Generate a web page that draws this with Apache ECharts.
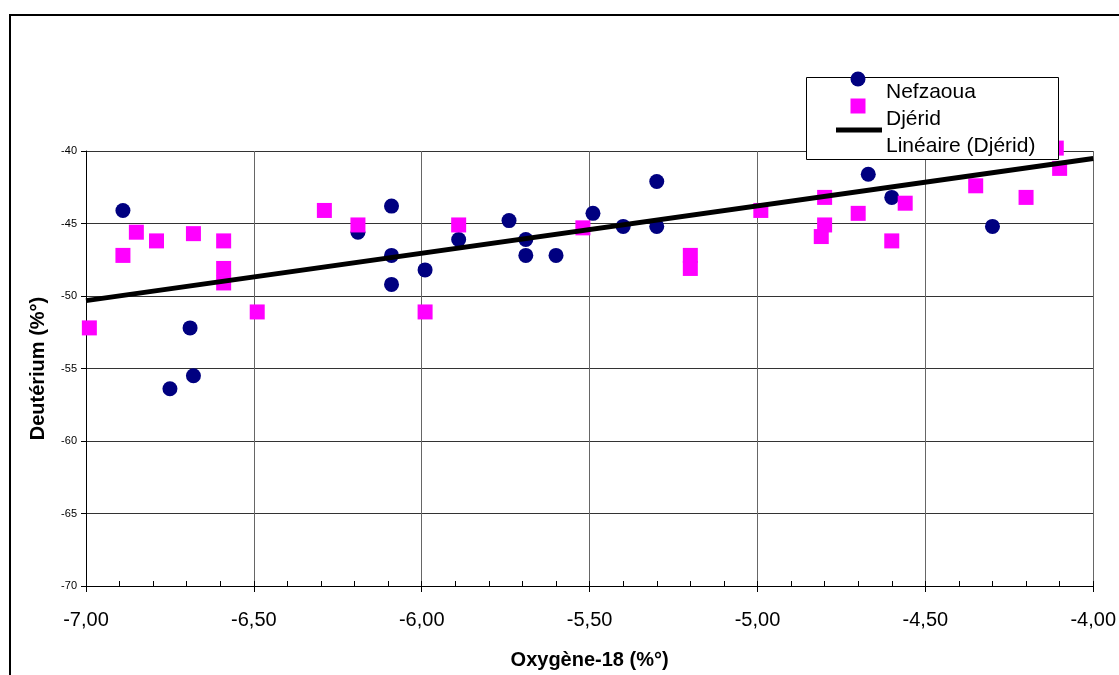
<!DOCTYPE html>
<html>
<head>
<meta charset="utf-8">
<script src="https://cdn.jsdelivr.net/npm/echarts@6/dist/echarts.min.js"></script>
<style>html,body{margin:0;padding:0;background:#fff;}#c{width:1119px;height:675px;}</style>
</head>
<body>
<div id="c"></div>
<script>
// Nefzaoua (circles)
var nefX = [-6.89, -6.69, -6.75, -6.68, -6.19, -6.09, -6.09, -6.09, -5.99, -5.89, -5.74, -5.69, -5.69, -5.6, -5.49, -5.4, -5.3, -5.3, -4.67, -4.6, -4.3];
var nefY = [-44.1, -52.2, -56.4, -55.5, -45.6, -43.8, -47.2, -49.2, -48.2, -46.1, -44.8, -46.1, -47.2, -47.2, -44.3, -45.2, -42.1, -45.2, -41.6, -43.2, -45.2];
// Djérid (squares)
var djeX = [-6.99, -6.89, -6.85, -6.79, -6.68, -6.59, -6.59, -6.59, -6.49, -6.29, -6.19, -5.99, -5.89, -5.52, -5.2, -5.2, -4.99, -4.8, -4.8, -4.81, -4.7, -4.6, -4.56, -4.35, -4.2, -4.1, -4.11];
var djeY = [-52.2, -47.2, -45.6, -46.2, -45.7, -46.2, -48.1, -49.1, -51.1, -44.1, -45.1, -51.1, -45.1, -45.3, -47.2, -48.1, -44.1, -43.2, -45.1, -45.9, -44.3, -46.2, -43.6, -42.4, -43.2, -41.2, -39.8];
// Linear trend (Djérid) endpoints
var trendX = [-7.0, -4.0];
var trendY = [-50.32, -40.52];

var seriesNames = ['Nefzaoua', 'Djérid', 'Linéaire (Djérid)'];
var xTitle = 'Oxygène-18 (%°)';
var yTitle = 'Deutérium (%°)';

function pairs(xs, ys) { return xs.map(function (x, i) { return [x, ys[i]]; }); }

var FONT = 'Liberation Sans, Arial, sans-serif';
var chart = echarts.init(document.getElementById('c'), null, { renderer: 'canvas' });
var xBase = {
  type: 'value', min: -7, max: -4, interval: 0.5, gridIndex: 0
};
var LZ = { zlevel: 1, z: 100 };
function L(o) { return Object.assign({}, o, LZ); }
chart.setOption({
  backgroundColor: '#ffffff',
  animation: false,
  grid: { left: 86, top: 151, right: 25, bottom: 88, containLabel: false },
  xAxis: [
    Object.assign({}, xBase, {
      position: 'bottom',
      name: xTitle, nameLocation: 'middle', nameGap: 64,
      nameTextStyle: { fontFamily: FONT, fontSize: 20, fontWeight: 'bold', color: '#000' },
      axisLine: { show: true, onZero: false, lineStyle: { color: '#000', width: 1 } },
      axisTick: { show: true, inside: false, length: 6, lineStyle: { color: '#000' } },
      axisLabel: { fontFamily: FONT, fontSize: 20, color: '#000', margin: 24,
        formatter: function (v) { return v.toFixed(2).replace('.', ','); } },
      splitLine: { show: true, lineStyle: { color: '#666', width: 1 } },
      minorTick: { show: false }
    }),
    Object.assign({}, xBase, {
      position: 'bottom',
      axisLine: { show: false, onZero: false },
      axisTick: { show: true, inside: true, length: 5, lineStyle: { color: '#000' } },
      minorTick: { show: true, splitNumber: 5, length: 5, lineStyle: { color: '#000' } },
      axisLabel: { show: false },
      splitLine: { show: false }
    })
  ],
  yAxis: {
    type: 'value', min: -70, max: -40, interval: 5,
    name: yTitle, nameLocation: 'middle', nameGap: 38, nameRotate: 90,
    nameTextStyle: { fontFamily: FONT, fontSize: 20, fontWeight: 'bold', color: '#000' },
    axisLine: { show: true, onZero: false, lineStyle: { color: '#000', width: 1 } },
    axisTick: { show: true, inside: false, length: 5, lineStyle: { color: '#000' } },
    axisLabel: { fontFamily: FONT, fontSize: 11, color: '#000', margin: 9 },
    splitLine: { show: true, lineStyle: { color: '#333', width: 1 } }
  },
  series: [
    {
      name: seriesNames[0], type: 'scatter', xAxisIndex: 0, yAxisIndex: 0,
      data: pairs(nefX, nefY), symbol: 'circle', symbolSize: 15, clip: false,
      itemStyle: { color: '#000080', opacity: 1 }, z: 3
    },
    {
      name: seriesNames[1], type: 'scatter', xAxisIndex: 0, yAxisIndex: 0,
      data: pairs(djeX, djeY), symbol: 'rect', symbolSize: 15, clip: false,
      itemStyle: { color: '#ff00ff', opacity: 1 }, z: 4
    },
    {
      name: seriesNames[2], type: 'line', xAxisIndex: 0, yAxisIndex: 0,
      data: pairs(trendX, trendY), symbol: 'none', clip: false,
      lineStyle: { color: '#000', width: 5 }, z: 5
    }
  ],
  graphic: [
    { type: 'rect', shape: { x: 10, y: 15, width: 1200, height: 800 }, silent: true,
      style: { fill: null, stroke: '#000', lineWidth: 2 }, z: 0 },
    L({ type: 'rect', shape: { x: 806.5, y: 77.5, width: 252, height: 82 },
        style: { fill: '#fff', stroke: '#000', lineWidth: 1 } }),
    L({ type: 'circle', shape: { cx: 858, cy: 79, r: 7.5 }, style: { fill: '#000080' } }),
    L({ type: 'rect', shape: { x: 850.5, y: 98.5, width: 15, height: 15 }, style: { fill: '#ff00ff' } }),
    L({ type: 'line', shape: { x1: 836, y1: 130, x2: 882, y2: 130 }, style: { stroke: '#000', lineWidth: 5 } }),
    L({ type: 'text', x: 886, y: 92, style: { text: seriesNames[0], font: '21px ' + FONT, fill: '#000', verticalAlign: 'middle' } }),
    L({ type: 'text', x: 886, y: 119, style: { text: seriesNames[1], font: '21px ' + FONT, fill: '#000', verticalAlign: 'middle' } }),
    L({ type: 'text', x: 886, y: 146, style: { text: seriesNames[2], font: '21px ' + FONT, fill: '#000', verticalAlign: 'middle' } })
  ]
});
</script>
</body>
</html>
